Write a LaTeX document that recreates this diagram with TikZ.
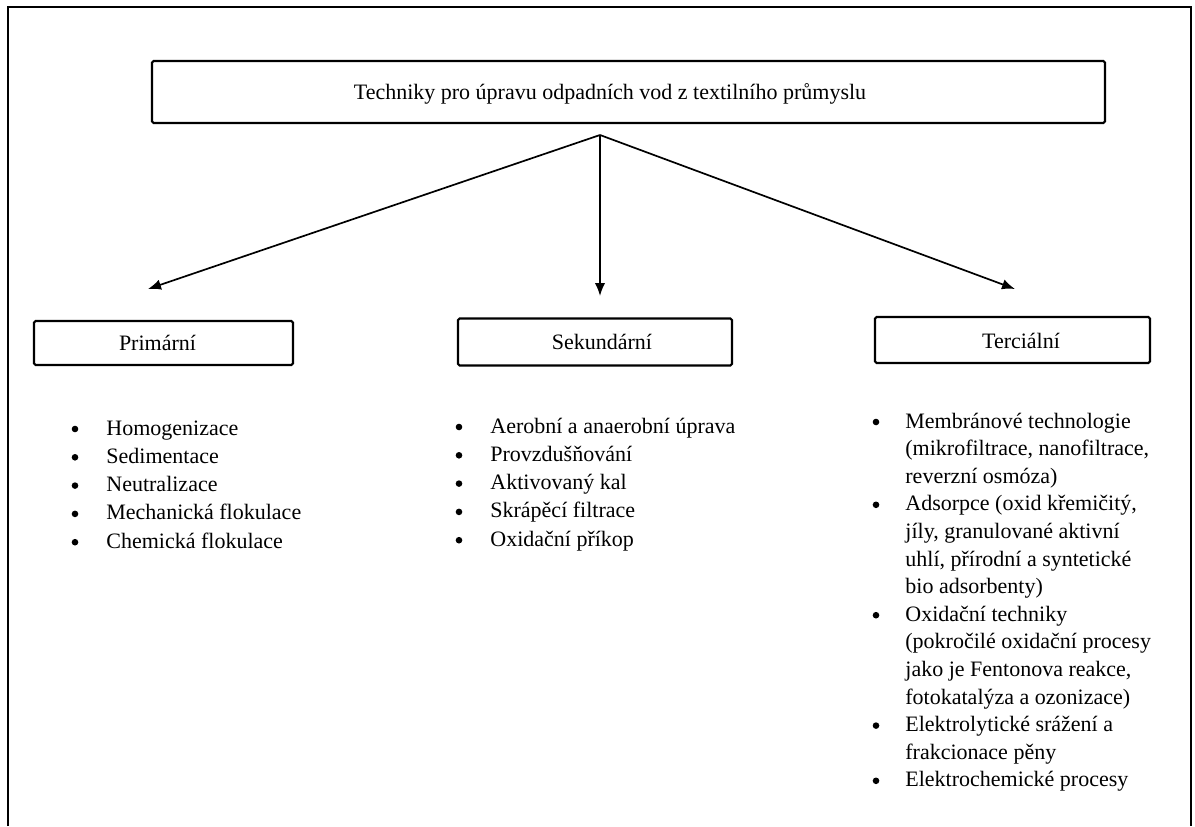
\documentclass[tikz,border=0pt]{standalone}
\usepackage{fontspec}
\setmainfont{Liberation Serif}
\usetikzlibrary{arrows.meta}
\begin{document}
\begin{tikzpicture}[x=0.5pt,y=-0.5pt,
  every node/.style={font=\fontsize{11}{13}\selectfont, inner sep=0pt},
  framebox/.style={draw, line width=1.1pt, rounded corners=0.8pt},
  link/.style={line width=0.85pt, -{Latex[length=6.5pt,width=5.2pt]}},
  txt/.style={anchor=base},
  itemtxt/.style={anchor=base west},
  bul/.style={circle, fill, minimum size=3.3pt}]
\useasboundingbox (0,0) rectangle (1195,826);
% outer frame, open at the bottom
\draw[line width=1pt] (8,826) -- (8,7) -- (1191,7) -- (1191,826);

% headline box
\node[framebox, minimum width=476.5pt, minimum height=31pt] (top) at (628.5,92) {};
\node[txt] (toptxt) at (610,99) {Techniky pro úpravu odpadních vod z textilního průmyslu};

% category boxes
\node[framebox, minimum width=129.5pt, minimum height=22pt] (prim) at (163.5,343) {};
\node[txt] (primtxt) at (157.5,350) {Primární};
\node[framebox, minimum width=137pt, minimum height=23.5pt] (sek) at (595,342) {};
\node[txt] (sektxt) at (602,349) {Sekundární};
\node[framebox, minimum width=137.5pt, minimum height=23pt] (ter) at (1012.5,340) {};
\node[txt] (tertxt) at (1021,348) {Terciální};

% connectors
\coordinate (hub) at (600,135);
\coordinate (endP) at (148,289);
\coordinate (endS) at (600,296);
\coordinate (endT) at (1015,289);
\draw[link] (hub) -- (endP);
\draw[link] (hub) -- (endS);
\draw[link] (hub) -- (endT);

% primary methods
\foreach \t [count=\i from 0] in {{Homogenizace}, {Sedimentace}, {Neutralizace}, {Mechanická flokulace}, {Chemická flokulace}}{
  \node[bul] (pb\i) at (75,429+28.3*\i) {};
  \node[itemtxt] (pt\i) at (106,435+28.3*\i) {\t};
}

% secondary methods
\foreach \t [count=\i from 0] in {{Aerobní a anaerobní úprava}, {Provzdušňování}, {Aktivovaný kal}, {Skrápěcí filtrace}, {Oxidační příkop}}{
  \node[bul] (sb\i) at (459,427+28.3*\i) {};
  \node[itemtxt] (st\i) at (490,433+28.3*\i) {\t};
}

% tertiary methods (wrapped lines)
\foreach \b in {0,3,7,11,13}{
  \node[bul] (tb\b) at (876,422+27.6*\b) {};
}
\foreach \t [count=\i from 0] in {
  {Membránové technologie},
  {(mikrofiltrace, nanofiltrace,},
  {reverzní osmóza)},
  {Adsorpce (oxid křemičitý,},
  {jíly, granulované aktivní},
  {uhlí, přírodní a syntetické},
  {bio adsorbenty)},
  {Oxidační techniky},
  {(pokročilé oxidační procesy},
  {jako je Fentonova reakce,},
  {fotokatalýza a ozonizace)},
  {Elektrolytické srážení a},
  {frakcionace pěny},
  {Elektrochemické procesy}}{
  \node[itemtxt] (tt\i) at (905,428+27.6*\i) {\t};
}
\end{tikzpicture}
\end{document}
